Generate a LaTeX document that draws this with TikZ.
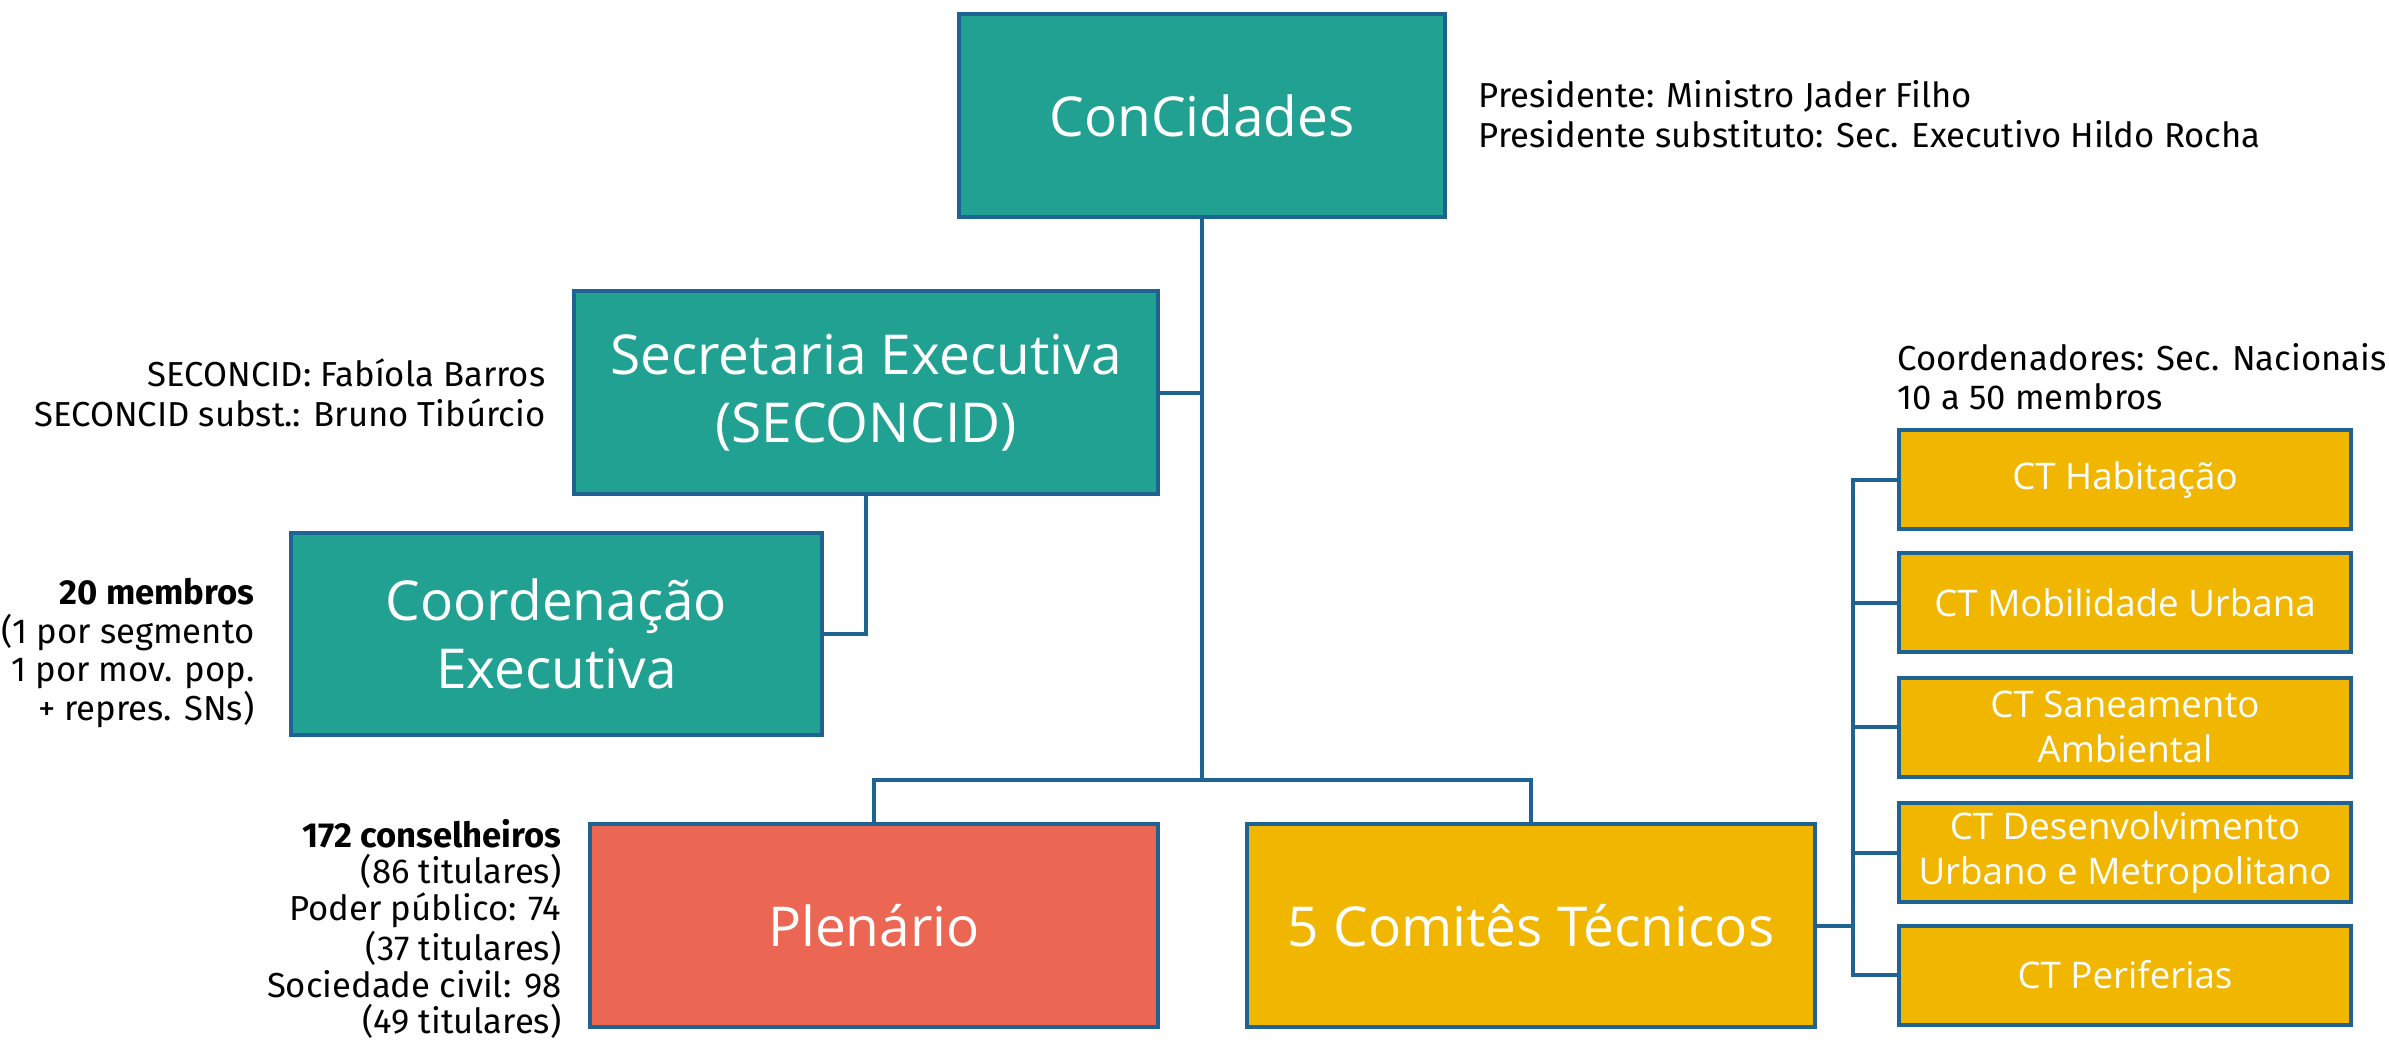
\documentclass[tikz,border=0pt]{standalone}
\usepackage{fontspec}
\setmainfont{Open Sans}
\newfontfamily\sidefont{Fira Sans}
\definecolor{tealc}{HTML}{21A191}
\definecolor{redc}{HTML}{EB6753}
\definecolor{goldc}{HTML}{F1B600}
\definecolor{bordc}{HTML}{1E6391}
\begin{document}
\begin{tikzpicture}[x=0.3pt,y=-0.3pt,
  box/.style={draw=bordc, line width=1.2pt, text=white, align=center, inner sep=0pt},
  bigbox/.style={box, font=\fontsize{16.5}{20.5}\selectfont},
  ctbox/.style={box, fill=goldc, minimum width={452*0.3pt}, minimum height={99*0.3pt}, font=\fontsize{11}{13.3}\selectfont},
  side/.style={inner sep=0pt, text=black, font=\sidefont\fontsize{10.4}{11.6}\selectfont},
  conn/.style={draw=bordc, line width=1.2pt}]
\useasboundingbox (0,0) rectangle (2389,1041);

\node[bigbox, fill=tealc, minimum width={486*0.3pt}, minimum height={203*0.3pt}] (con) at (1202,115.5) {ConCidades};
\node[bigbox, fill=tealc, minimum width={584*0.3pt}, minimum height={203*0.3pt}] (sec) at (866,392.5) {Secretaria Executiva\\(SECONCID)};
\node[bigbox, fill=tealc, minimum width={531*0.3pt}, minimum height={202*0.3pt}] (coord) at (556.5,634) {Coordenação\\Executiva};
\node[bigbox, fill=redc, minimum width={568*0.3pt}, minimum height={203*0.3pt}] (plen) at (874,925.5) {Plenário};
\node[bigbox, fill=goldc, minimum width={568*0.3pt}, minimum height={203*0.3pt}] (com) at (1531,925.5) {5 Comitês Técnicos};

\node[ctbox] (ct1) at (2125,479.5) {CT Habitação};
\node[ctbox] (ct2) at (2125,602.5) {CT Mobilidade Urbana};
\node[ctbox] (ct3) at (2125,727) {CT Saneamento\\Ambiental};
\node[ctbox] (ct4) at (2125,852.5) {CT Desenvolvimento\\Urbano e Metropolitano};
\node[ctbox] (ct5) at (2125,975) {CT Periferias};

\node[side, anchor=west, align=left, font=\sidefont\fontsize{10.4}{12}\selectfont] (pres) at (1478,114) {Presidente: Ministro Jader Filho\\Presidente substituto: Sec. Executivo Hildo Rocha};
\node[side, anchor=east, align=right, font=\sidefont\fontsize{10.4}{12}\selectfont] (secnote) at (546,393) {SECONCID: Fabíola Barros\\SECONCID subst.: Bruno Tibúrcio};
\node[side, anchor=east, align=right] (coordnote) at (255,653) {\textbf{20 membros}\\(1 por segmento\\1 por mov. pop.\\+ repres. SNs)};
\node[side, anchor=east, align=right, font=\sidefont\fontsize{10.4}{11}\selectfont] (plennote) at (562,929) {\textbf{172 conselheiros}\\(86 titulares)\\Poder público: 74\\(37 titulares)\\Sociedade civil: 98\\(49 titulares)};
\node[side, anchor=west, align=left, font=\sidefont\fontsize{10.4}{11.7}\selectfont] (ctnote) at (1897,376.5) {Coordenadores: Sec. Nacionais\\10 a 50 membros};

\coordinate (bar) at (1202,780);
\coordinate (ctbus) at (1853,925.5);
\draw[conn] (con.south) -- (bar);
\draw[conn] (sec.east) -- (sec.east -| con.south);
\draw[conn] (sec.south) |- (coord.east);
\draw[conn] (plen.north) |- (bar) -| (com.north);
\draw[conn] (com.east) -- (ctbus);
\draw[conn] (ct1.west) -| (ctbus) |- (ct5.west);
\draw[conn] (ct2.west) -- (ct2.west -| ctbus);
\draw[conn] (ct3.west) -- (ct3.west -| ctbus);
\draw[conn] (ct4.west) -- (ct4.west -| ctbus);
\end{tikzpicture}
\end{document}
